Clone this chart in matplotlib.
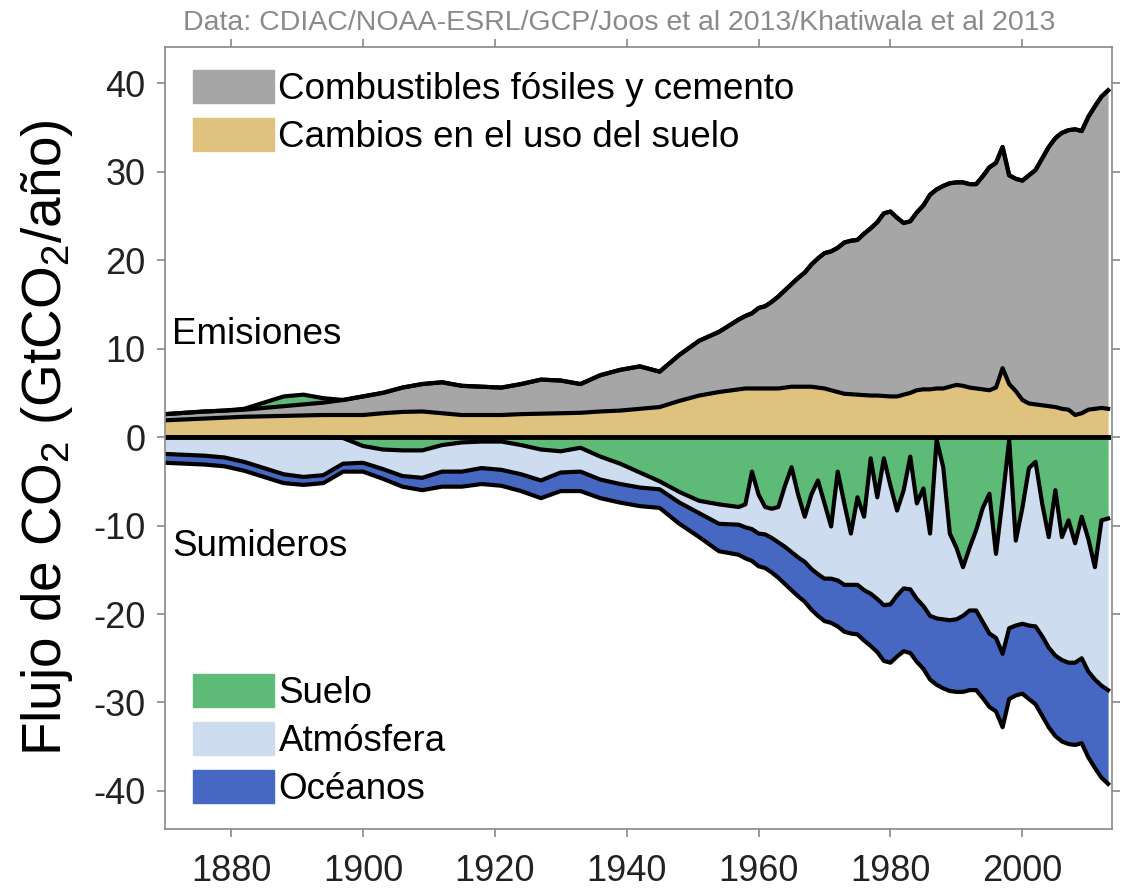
import numpy as np
import matplotlib.pyplot as plt
from matplotlib.patches import Patch

plt.rcParams['font.family'] = ['Liberation Sans', 'DejaVu Sans']
plt.rcParams['axes.unicode_minus'] = False

# years: every 3 years up to 1954, then annual
years = np.r_[np.arange(1870, 1957, 3), np.arange(1957, 2014)]

# GtCO2 per year
land_use = [1.9, 2.0, 2.1, 2.2, 2.3, 2.35, 2.4, 2.45, 2.5, 2.5, 2.5, 2.7, 2.85, 2.9, 2.7,
            2.5, 2.5, 2.5, 2.6, 2.65, 2.7, 2.75, 2.9, 3.0, 3.2, 3.4, 4.1, 4.7, 5.1,
            5.4, 5.5, 5.5, 5.5, 5.5, 5.5, 5.5, 5.6, 5.7, 5.7,
            5.7, 5.7, 5.6, 5.5, 5.3, 5.1, 4.9, 4.85, 4.8, 4.75,
            4.7, 4.7, 4.65, 4.6, 4.6, 4.8, 5.0, 5.3, 5.4, 5.4,
            5.5, 5.5, 5.7, 5.9, 5.8, 5.6, 5.5, 5.4, 5.3, 5.6,
            7.8, 6.0, 5.2, 4.2, 3.8, 3.7, 3.6, 3.5, 3.4, 3.2,
            3.1, 2.5, 2.7, 3.1, 3.2, 3.3, 3.2]
fossil = [0.7, 0.75, 0.8, 0.8, 0.8, 0.95, 1.1, 1.25, 1.4, 1.7, 2.1, 2.3, 2.75, 3.1, 3.5,
          3.3, 3.2, 3.1, 3.4, 3.85, 3.7, 3.25, 4.1, 4.6, 4.8, 4.0, 5.2, 6.2, 6.8,
          7.9, 8.2, 8.5, 9.1, 9.3, 9.8, 10.4, 11.0, 11.6, 12.3,
          12.9, 13.8, 14.6, 15.3, 15.7, 16.3, 17.1, 17.35, 17.5, 18.25,
          18.9, 19.6, 20.65, 20.9, 20.2, 19.4, 19.4, 20.1, 20.8, 22.0,
          22.5, 22.9, 23.0, 22.9, 23.0, 23.0, 23.1, 24.1, 25.2, 25.4,
          25.0, 23.6, 24.0, 24.8, 25.8, 26.5, 27.9, 29.3, 30.4, 31.2,
          31.6, 32.3, 31.9, 33.1, 34.2, 35.2, 36.0]
# land sink: positive = sink, negative = land acting as a source
land_sink = [0, 0, 0, 0, -0.1, -0.6, -1.1, -1.1, -0.5, 0.1, 1.0, 1.4, 1.5, 1.5, 0.9,
             0.6, 0.5, 0.5, 0.9, 1.4, 1.6, 1.2, 2.2, 3.0, 4.0, 5.0, 6.2, 7.2, 7.6,
             7.9, 7.6, 3.9, 6.5, 7.9, 8.1, 7.9, 5.5, 3.4, 6.5,
             9.0, 6.5, 4.9, 7.5, 10.1, 3.9, 7.5, 10.9, 6.8, 9.0,
             2.4, 6.8, 2.4, 5.5, 8.3, 6.0, 2.2, 7.5, 5.8, 10.9,
             0.3, 3.4, 10.9, 12.5, 14.7, 12.5, 10.5, 8.0, 6.4, 13.2,
             7.0, 0.3, 11.7, 8.0, 3.5, 2.8, 7.5, 11.3, 6.0, 11.3,
             9.4, 12.0, 9.0, 11.5, 14.7, 9.4, 9.2]
atmosphere = [1.9, 2.0, 2.1, 2.3, 2.8, 3.5, 4.2, 4.5, 4.3, 2.9, 1.9, 2.2, 2.9, 3.1, 3.0,
              3.3, 3.0, 3.2, 3.3, 3.5, 2.4, 2.7, 2.6, 2.3, 1.7, 0.9, 1.2, 1.4, 2.2,
              2.0, 2.6, 6.5, 4.4, 3.1, 3.3, 4.0, 6.9, 9.6, 7.1,
              5.1, 8.4, 10.6, 8.5, 5.9, 12.3, 9.2, 5.8, 9.9, 8.3,
              15.3, 11.5, 16.6, 13.4, 9.6, 11.1, 15.0, 10.8, 13.3, 9.3,
              20.2, 17.2, 9.8, 8.1, 5.5, 7.1, 9.1, 12.9, 15.8, 9.5,
              17.5, 21.3, 9.6, 13.1, 17.8, 18.6, 15.0, 12.5, 18.7, 13.9,
              16.1, 13.5, 16.0, 15.0, 12.7, 18.7, 19.4]
ocean = [1.0, 1.0, 1.0, 1.0, 1.0, 1.0, 1.0, 0.9, 0.9, 0.9, 1.0, 1.1, 1.2, 1.4, 1.7,
         1.7, 1.8, 1.8, 1.9, 2.0, 2.1, 2.2, 2.1, 2.1, 2.1, 2.1, 2.4, 2.7, 3.1,
         3.4, 3.5, 3.6, 3.7, 3.8, 3.9, 4.0, 4.2, 4.3, 4.4,
         4.5, 4.6, 4.7, 4.8, 5.0, 5.2, 5.3, 5.5, 5.6, 5.7,
         5.9, 6.0, 6.3, 6.6, 6.9, 7.1, 7.2, 7.1, 7.1, 7.2,
         7.5, 7.8, 8.0, 8.2, 8.6, 9.0, 9.0, 8.6, 8.3, 8.3,
         8.3, 8.0, 7.9, 7.9, 8.3, 8.8, 9.0, 9.0, 9.1, 9.2,
         9.2, 9.3, 9.6, 9.7, 10.0, 10.4, 10.6]

col_ff = '#a6a6a6'
col_luc = '#dfc27d'
col_land = '#5dbb77'
col_atm = '#cddcee'
col_oce = '#4768c2'

luc = np.array(land_use)
ff = np.array(fossil)
ls = np.array(land_sink)
atm = np.array(atmosphere)
oce = np.array(ocean)

emis = luc + ff
source = np.clip(-ls, 0, None)
sink = np.clip(ls, 0, None)
atm_bot = -sink - atm
oce_bot = atm_bot - oce

fig = plt.figure(figsize=(11.25, 8.89), dpi=100)
ax = fig.add_axes([0.1467, 0.0675, 0.8418, 0.8796])

ax.fill_between(years, 0, luc, color=col_luc, lw=0)
ax.fill_between(years, luc, emis, color=col_ff, lw=0)
ax.fill_between(years, emis, emis + source, color=col_land, lw=0)
ax.fill_between(years, 0, -sink, color=col_land, lw=0)
ax.fill_between(years, -sink, atm_bot, color=col_atm, lw=0)
ax.fill_between(years, atm_bot, oce_bot, color=col_oce, lw=0)

for edge in [luc, emis, emis + source, -sink, atm_bot, oce_bot]:
    ax.plot(years, edge, color='black', lw=3, solid_joinstyle='round')
ax.plot(years, np.zeros(len(years)), color='black', lw=3.5)

ax.set_xlim(1870, 2013.6)
ax.set_ylim(-44.3, 44.1)
ax.set_xticks(range(1880, 2001, 20))
ax.set_yticks(range(-40, 41, 10))
ax.tick_params(axis='both', direction='out', length=6, width=1.2, color='#888888',
               labelsize=26, labelcolor='#222222', top=True, right=True)
ax.tick_params(axis='x', pad=12)
ax.tick_params(axis='y', pad=8)
for s in ax.spines.values():
    s.set_color('#888888')
    s.set_linewidth(1.2)

ax.set_ylabel('Flujo de CO$\\mathregular{_2}$ (GtCO$\\mathregular{_2}$/año)',
              fontsize=39.5, labelpad=13)

ax.text(1871.1, 11.6, 'Emisiones', fontsize=26.5, va='center', ha='left')
ax.text(1871.1, -12.4, 'Sumideros', fontsize=26.5, va='center', ha='left')

fig.text(0.55, 0.974, 'Data: CDIAC/NOAA-ESRL/GCP/Joos et al 2013/Khatiwala et al 2013',
         fontsize=20.5, color='#8a8a8a', ha='center', va='center')

leg_kw = dict(frameon=False, fontsize=26.5, handlelength=2.2, handleheight=1.0,
              handletextpad=0.12, labelspacing=0.3, borderpad=0, borderaxespad=0,
              loc='upper left')
top_leg = ax.legend([Patch(color=col_ff), Patch(color=col_luc)],
                    ['Combustibles fósiles y cemento', 'Cambios en el uso del suelo'],
                    bbox_to_anchor=(0.0296, 0.971), **leg_kw)
ax.add_artist(top_leg)
ax.legend([Patch(color=col_land), Patch(color=col_atm), Patch(color=col_oce)],
          ['Suelo', 'Atmósfera', 'Océanos'],
          bbox_to_anchor=(0.0296, 0.198), **leg_kw)

plt.savefig('out.png', dpi=100)
